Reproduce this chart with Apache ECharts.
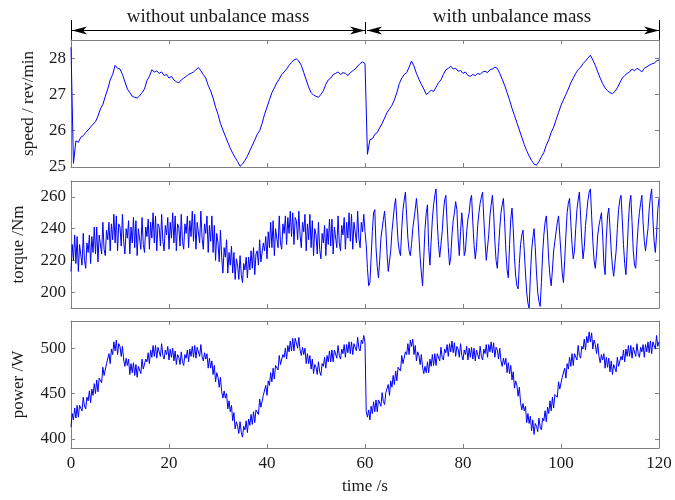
<!DOCTYPE html>
<html>
<head>
<meta charset="utf-8">
<script src="https://cdn.jsdelivr.net/npm/echarts@6/dist/echarts.min.js"></script>
<style>
  html, body { margin: 0; padding: 0; background: #fff; }
  #main { width: 675px; height: 500px; }
</style>
</head>
<body>
<div id="main"></div>
<script>
// sampling steps of the recorded signals (s)
const speedStep = 0.5;
const sampleStep = 0.25;
const xTicks = [0, 20, 40, 60, 80, 100, 120];
const speedTicks = [25, 26, 27, 28];
const torqueTicks = [200, 220, 240, 260];
const powerTicks = [400, 450, 500];
const phaseBounds = [0, 60, 120];
const phaseLabels = ['without unbalance mass', 'with unbalance mass'];

// speed / rev/min, one value every 0.5 s from 0 to 120 s
const speed = [
  28.3, 25.1, 25.72, 25.68, 25.82, 25.86, 25.95, 26.02, 26.10, 26.18, 26.25, 26.40, 26.60, 26.72, 26.95, 27.15, 27.40, 27.55, 27.80, 27.72,
  27.70, 27.55, 27.35, 27.15, 27.05, 26.95, 26.92, 26.90, 26.96, 27.05, 27.15, 27.38, 27.50, 27.68, 27.62, 27.65, 27.58, 27.62, 27.52, 27.55,
  27.45, 27.50, 27.40, 27.35, 27.32, 27.40, 27.45, 27.50, 27.55, 27.58, 27.62, 27.68, 27.74, 27.65, 27.55, 27.45, 27.25, 27.10, 26.90, 26.65,
  26.45, 26.20, 26.02, 25.85, 25.68, 25.52, 25.38, 25.26, 25.15, 25.02, 25.08, 25.18, 25.30, 25.45, 25.60, 25.74, 25.90, 26.00, 26.20, 26.45,
  26.65, 26.85, 27.05, 27.18, 27.32, 27.42, 27.55, 27.62, 27.70, 27.80, 27.88, 27.95, 27.98, 27.92, 27.80, 27.60, 27.40, 27.20, 27.05, 26.98,
  26.95, 26.92, 27.00, 27.10, 27.28, 27.40, 27.45, 27.55, 27.58, 27.62, 27.55, 27.60, 27.58, 27.52, 27.60, 27.65, 27.70, 27.78, 27.85, 27.90,
  27.85, 25.35, 25.75, 25.78, 25.90, 25.95, 26.08, 26.20, 26.35, 26.50, 26.60, 26.70, 26.85, 27.05, 27.30, 27.45, 27.55, 27.60, 27.75, 27.92,
  27.78, 27.58, 27.42, 27.28, 27.15, 27.00, 27.05, 27.12, 27.08, 27.20, 27.32, 27.40, 27.55, 27.68, 27.72, 27.78, 27.70, 27.72, 27.64, 27.66,
  27.58, 27.62, 27.52, 27.50, 27.55, 27.52, 27.58, 27.55, 27.62, 27.64, 27.60, 27.68, 27.70, 27.75, 27.72, 27.58, 27.42, 27.25, 27.05, 26.85,
  26.62, 26.42, 26.22, 26.02, 25.82, 25.62, 25.45, 25.30, 25.18, 25.08, 25.05, 25.15, 25.28, 25.40, 25.60, 25.75, 25.95, 26.10, 26.30, 26.50,
  26.70, 26.85, 27.00, 27.15, 27.32, 27.45, 27.58, 27.68, 27.75, 27.85, 27.92, 28.00, 28.08, 27.95, 27.80, 27.62, 27.45, 27.30, 27.18, 27.10,
  27.05, 27.02, 27.08, 27.18, 27.32, 27.45, 27.52, 27.58, 27.62, 27.70, 27.65, 27.72, 27.68, 27.62, 27.72, 27.76, 27.80, 27.84, 27.86, 27.92,
  27.95
];

// torque /Nm, one value every 0.25 s
const torque = [
  213, 230, 220, 236, 218, 235, 213, 230, 229, 217, 237, 220, 215, 231, 225, 236, 218, 235, 225, 241, 224, 241, 219, 236, 236, 224, 244, 227, 223, 239, 233, 244, 226, 243, 233, 249, 231, 248, 226, 243,
  241, 229, 249, 232, 224, 240, 234, 245, 224, 241, 231, 247, 228, 245, 223, 240, 239, 227, 247, 230, 225, 241, 235, 246, 227, 244, 234, 250, 231, 248, 226, 243, 241, 229, 249, 232, 226, 242, 236, 247,
  227, 244, 234, 250, 231, 248, 226, 243, 241, 229, 249, 232, 227, 243, 237, 248, 228, 245, 235, 251, 232, 249, 227, 244, 243, 231, 251, 234, 227, 243, 237, 248, 225, 242, 232, 248, 225, 242, 220, 237,
  231, 219, 239, 222, 212, 228, 222, 233, 212, 225, 217, 229, 212, 225, 208, 221, 217, 208, 223, 211, 206, 218, 214, 222, 209, 222, 214, 226, 215, 228, 211, 224, 226, 217, 233, 219, 219, 231, 226, 235,
  221, 238, 228, 244, 228, 245, 223, 240, 240, 228, 248, 231, 227, 243, 237, 248, 230, 247, 237, 251, 235, 250, 230, 247, 245, 233, 251, 236, 228, 244, 238, 249, 226, 243, 233, 249, 228, 245, 223, 240,
  236, 224, 244, 227, 221, 237, 231, 242, 223, 240, 230, 246, 229, 246, 224, 241, 240, 228, 248, 231, 226, 242, 236, 247, 227, 244, 234, 250, 232, 249, 227, 244, 243, 231, 251, 234, 228, 244, 238, 249,
  238, 230, 215, 204, 206, 222, 238, 250, 252, 228, 216, 209, 220, 234, 240, 246, 251, 240, 224, 213, 212, 226, 238, 246, 254, 259, 245, 232, 226, 223, 240, 252, 258, 263, 248, 234, 226, 223, 230, 240,
  246, 252, 259, 250, 236, 222, 212, 204, 222, 240, 250, 255, 228, 217, 232, 246, 255, 261, 265, 244, 230, 222, 221, 238, 250, 258, 261, 244, 228, 217, 222, 236, 245, 250, 257, 252, 234, 223, 238, 250,
  240, 223, 226, 238, 246, 250, 258, 261, 244, 230, 221, 228, 242, 250, 256, 260, 263, 246, 232, 220, 219, 236, 248, 255, 261, 250, 232, 220, 215, 228, 240, 250, 255, 259, 244, 226, 214, 209, 230, 246,
  253, 240, 222, 210, 204, 202, 218, 230, 236, 239, 226, 212, 200, 193, 190, 210, 226, 234, 240, 228, 212, 200, 194, 191, 206, 224, 236, 244, 248, 236, 220, 210, 204, 214, 226, 232, 238, 244, 248, 236,
  224, 212, 206, 220, 236, 250, 256, 259, 244, 230, 221, 226, 240, 252, 258, 263, 248, 232, 221, 228, 242, 250, 258, 263, 265, 248, 232, 220, 215, 224, 236, 242, 246, 250, 236, 218, 211, 234, 248, 253,
  240, 226, 216, 210, 209, 226, 240, 252, 258, 261, 246, 230, 218, 211, 226, 244, 256, 261, 244, 226, 217, 215, 230, 242, 250, 256, 261, 244, 232, 226, 225, 240, 252, 260, 265, 246, 232, 225, 236, 252,
  259
];

// power /W, one value every 0.25 s
const power = [
  413, 428, 421, 434, 423, 437, 424, 437, 437, 431, 446, 436, 433, 446, 442, 453, 440, 455, 448, 461, 450, 465, 452, 467, 467, 462, 479, 470, 469, 483, 482, 494, 483, 499, 493, 507, 497, 509, 493, 505,
  502, 491, 502, 487, 480, 489, 481, 488, 471, 483, 473, 484, 470, 482, 468, 480, 478, 472, 488, 477, 475, 488, 485, 495, 483, 498, 490, 503, 491, 503, 489, 501, 499, 491, 505, 492, 488, 498, 493, 502,
  487, 499, 490, 500, 486, 497, 482, 493, 490, 482, 496, 485, 481, 493, 489, 498, 485, 499, 491, 502, 490, 503, 489, 501, 500, 491, 504, 491, 486, 495, 488, 494, 478, 489, 478, 486, 471, 481, 463, 473,
  468, 457, 468, 452, 445, 453, 445, 450, 433, 442, 430, 437, 420, 429, 411, 419, 414, 406, 419, 407, 402, 414, 410, 420, 407, 422, 415, 427, 416, 430, 418, 432, 432, 427, 444, 435, 434, 448, 447, 459,
  448, 464, 459, 473, 463, 478, 466, 481, 482, 476, 492, 482, 480, 493, 490, 500, 488, 503, 496, 508, 497, 511, 497, 511, 510, 500, 512, 498, 492, 501, 493, 500, 483, 494, 483, 492, 477, 488, 472, 482,
  479, 471, 485, 474, 470, 483, 480, 490, 478, 492, 485, 497, 485, 498, 485, 498, 497, 489, 503, 492, 488, 499, 494, 504, 490, 504, 495, 507, 494, 507, 493, 505, 504, 497, 512, 500, 497, 509, 505, 514,
  506, 430, 424, 432, 421, 436, 428, 441, 430, 443, 430, 443, 442, 436, 451, 441, 438, 451, 449, 460, 448, 464, 457, 470, 460, 475, 464, 479, 480, 475, 492, 483, 482, 496, 493, 505, 493, 509, 502, 510,
  493, 503, 486, 496, 492, 482, 493, 479, 472, 480, 473, 485, 473, 488, 480, 493, 481, 494, 481, 494, 493, 486, 501, 490, 487, 499, 495, 504, 491, 505, 496, 508, 495, 506, 491, 502, 499, 490, 505, 492,
  487, 498, 493, 502, 487, 500, 490, 501, 488, 500, 486, 498, 496, 488, 502, 491, 487, 499, 494, 504, 490, 504, 496, 507, 495, 506, 490, 501, 498, 488, 500, 486, 480, 489, 482, 489, 473, 484, 472, 481,
  465, 474, 456, 464, 459, 447, 457, 440, 432, 439, 431, 436, 418, 428, 417, 425, 409, 421, 405, 417, 414, 408, 423, 413, 410, 423, 420, 431, 419, 435, 428, 442, 431, 446, 434, 449, 450, 446, 463, 455,
  454, 468, 466, 478, 467, 483, 477, 490, 480, 494, 481, 494, 494, 487, 503, 492, 489, 502, 499, 510, 498, 513, 506, 518, 507, 517, 499, 509, 504, 494, 505, 491, 484, 493, 487, 494, 478, 490, 479, 489,
  474, 486, 471, 482, 480, 474, 490, 480, 478, 491, 487, 498, 485, 499, 491, 503, 491, 503, 489, 501, 499, 491, 505, 494, 490, 501, 496, 504, 490, 504, 496, 507, 495, 508, 494, 507, 506, 499, 514, 502,
  507
];

const font = 'Liberation Serif';
const frame = '#808080';
const ink = '#1a1a1a';
const blue = '#0000ff';

const panels = [
  { name: 'speed / rev/min', values: speed, step: speedStep, min: 25, max: 28.5, ticks: speedTicks, top: 40, nameGap: 34 },
  { name: 'torque /Nm', values: torque, step: sampleStep, min: 190, max: 270, ticks: torqueTicks, top: 181, nameGap: 44 },
  { name: 'power /W', values: power, step: sampleStep, min: 390, max: 530, ticks: powerTicks, top: 321, nameGap: 44 },
];

const chart = echarts.init(document.getElementById('main'));

const xAxes = [];
const yAxes = [];
panels.forEach((p, i) => {
  const last = i === panels.length - 1;
  xAxes.push({
    gridIndex: i, type: 'value', min: 0, max: 120, position: 'bottom',
    axisLine: { show: true, onZero: false, lineStyle: { color: frame, width: 1 } },
    axisTick: { inside: true, length: 4, customValues: xTicks, lineStyle: { color: frame } },
    axisLabel: { show: last, customValues: xTicks, color: ink, fontFamily: font, fontSize: 17, margin: 7 },
    splitLine: { show: false },
    name: last ? 'time /s' : '', nameLocation: 'middle', nameGap: 30,
    nameTextStyle: { color: ink, fontFamily: font, fontSize: 17 },
  });
});
panels.forEach((p, i) => {
  xAxes.push({
    gridIndex: i, type: 'value', min: 0, max: 120, position: 'top',
    axisLine: { show: true, onZero: false, lineStyle: { color: frame, width: 1 } },
    axisTick: { inside: true, length: 4, customValues: xTicks, lineStyle: { color: frame } },
    axisLabel: { show: false },
    splitLine: { show: false },
  });
});
panels.forEach((p, i) => {
  yAxes.push({
    gridIndex: i, type: 'value', min: p.min, max: p.max, position: 'left',
    axisLine: { show: true, onZero: false, lineStyle: { color: frame, width: 1 } },
    axisTick: { inside: true, length: 4, customValues: p.ticks, lineStyle: { color: frame } },
    axisLabel: { customValues: p.ticks, color: ink, fontFamily: font, fontSize: 17, margin: 5 },
    splitLine: { show: false },
    name: p.name, nameLocation: 'middle', nameGap: p.nameGap,
    nameTextStyle: { color: ink, fontFamily: font, fontSize: 17 },
  });
});
panels.forEach((p, i) => {
  yAxes.push({
    gridIndex: i, type: 'value', min: p.min, max: p.max, position: 'right',
    axisLine: { show: true, onZero: false, lineStyle: { color: frame, width: 1 } },
    axisTick: { inside: true, length: 4, customValues: p.ticks, lineStyle: { color: frame } },
    axisLabel: { show: false },
    splitLine: { show: false },
  });
});

chart.setOption({
  animation: false,
  backgroundColor: '#fff',
  grid: panels.map(p => ({ left: 71, width: 588, top: p.top, height: 127 })),
  xAxis: xAxes,
  yAxis: yAxes,
  series: panels.map((p, i) => ({
    type: 'line',
    xAxisIndex: i,
    yAxisIndex: i,
    data: p.values.map((v, k) => [k * p.step, v]),
    showSymbol: false,
    symbol: 'none',
    sampling: false,
    lineStyle: { width: 1, color: blue },
    itemStyle: { color: blue },
  })),
});

// phase annotation above the top panel, placed via the x scale
const xs = phaseBounds.map(v => chart.convertToPixel({ xAxisIndex: 0 }, v));
const ay = 30.5;
const head = (tip, dir) => ({
  type: 'polygon',
  shape: { points: [[tip, ay], [tip + dir * 15, ay - 4], [tip + dir * 11, ay], [tip + dir * 15, ay + 4]] },
  style: { fill: '#000' },
});
const seg = (a, b) => ({ type: 'line', shape: { x1: a, y1: ay, x2: b, y2: ay }, style: { stroke: '#000', lineWidth: 1 } });
const bar = (x, y1, y2) => ({ type: 'line', shape: { x1: Math.round(x) + 0.5, y1: y1, x2: Math.round(x) + 0.5, y2: y2 }, style: { stroke: '#000', lineWidth: 1 } });
const graphics = [
  seg(xs[0], xs[1]), seg(xs[1] + 2, xs[2]),
  head(xs[0] + 1, 1), head(xs[1], -1), head(xs[1] + 2, 1), head(xs[2], -1),
  bar(xs[0], 20, 40), bar(xs[1], 22, 34), bar(xs[2], 20, 40),
];
phaseLabels.forEach((label, i) => {
  graphics.push({
    type: 'text',
    x: (xs[i] + xs[i + 1]) / 2, y: 17,
    style: { text: label, font: '19px "Liberation Serif"', fill: ink, align: 'center', verticalAlign: 'middle' },
  });
});
chart.setOption({ graphic: graphics });
</script>
</body>
</html>
